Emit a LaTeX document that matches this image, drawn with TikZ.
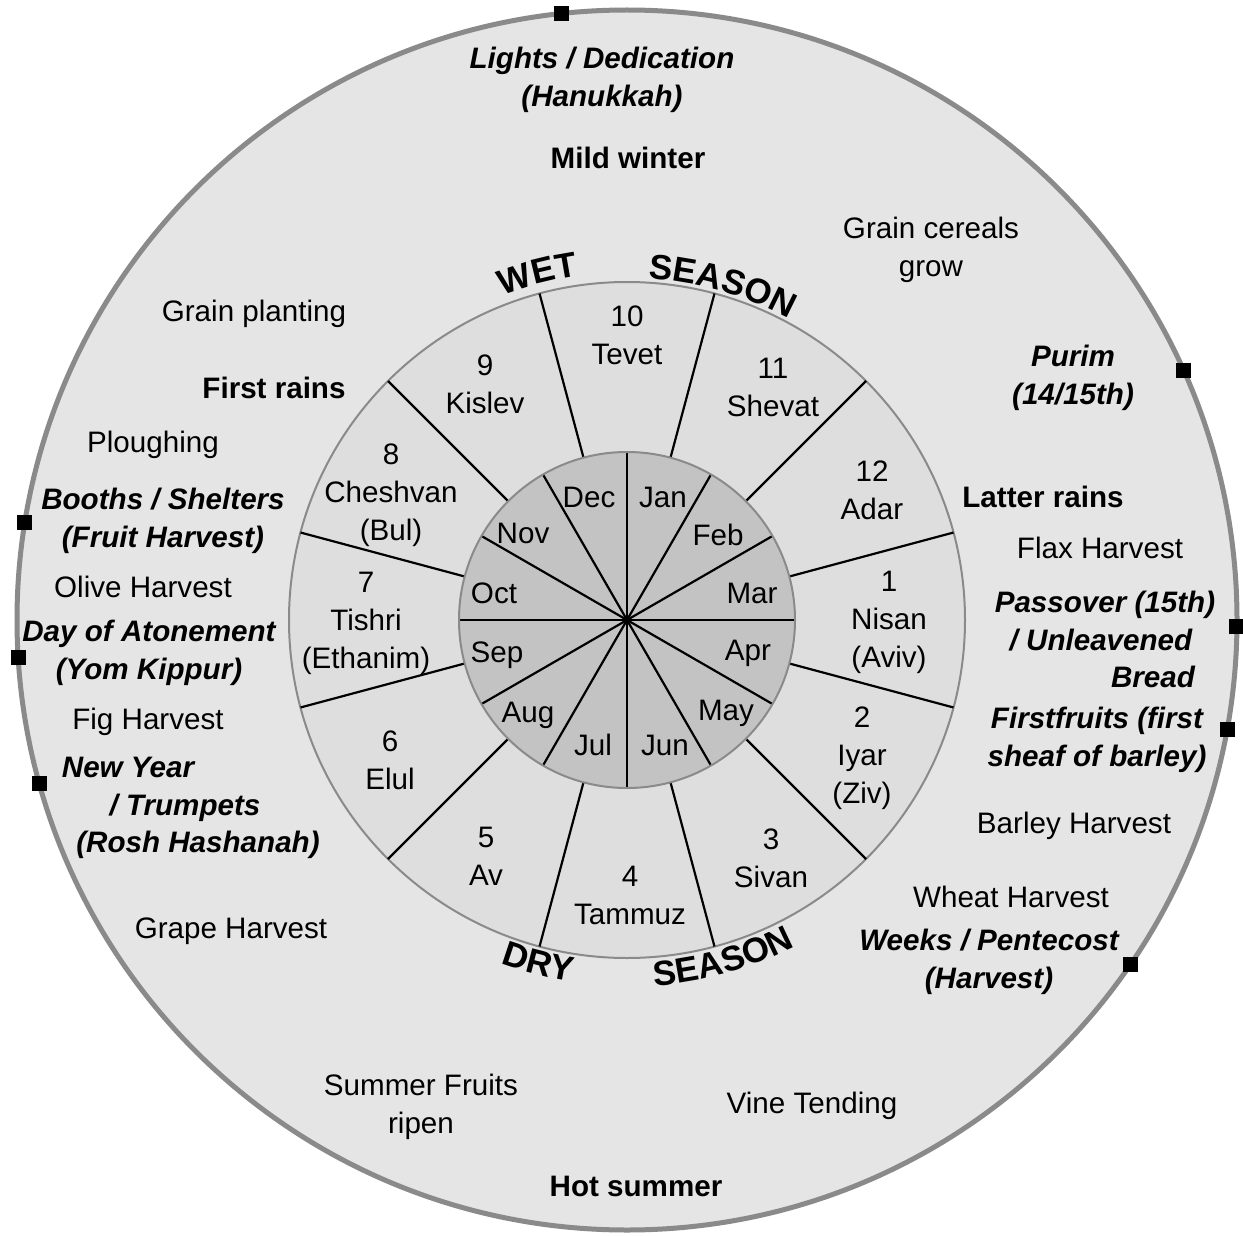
\documentclass[tikz,border=0pt]{standalone}
\usepackage{fontspec}
\setmainfont{Liberation Sans}
\usetikzlibrary{calc,decorations.text}
\definecolor{outerfill}{HTML}{E5E5E5}
\definecolor{midfill}{HTML}{DEDEDE}
\definecolor{innerfill}{HTML}{C3C3C3}
\definecolor{ringline}{HTML}{8A8A8A}
\newcommand\seasonfont{\fontsize{17.5pt}{20pt}\selectfont\bfseries}
\begin{document}
\begin{tikzpicture}[x=0.5pt,y=-0.5pt,
  lab/.style={inner sep=0pt, align=center, text depth=0pt, font=\fontsize{14.8pt}{19pt}\selectfont},
  fest/.style={inner sep=0pt, align=center, text depth=0pt, font=\fontsize{14.8pt}{19pt}\selectfont\bfseries\itshape},
  clim/.style={inner sep=0pt, align=center, text depth=0pt, font=\fontsize{14.8pt}{19pt}\selectfont\bfseries},
  spoke/.style={draw=black, line width=1.1pt},
  sq/.style={fill=black, draw=none, rectangle, inner sep=0pt, minimum size=7.5pt},
  seasontext/.style={decorate, decoration={text along path, text align=center, text={|\seasonfont|#1}}}
]
\useasboundingbox (0,0) rectangle (1243,1236);
\fill[white] (0,0) rectangle (1243,1236);
\coordinate (C) at (627,620);
% rings
\fill[outerfill] (C) circle[radius=305pt];
\draw[ringline, line width=2.5pt] (C) circle[radius=305pt];
\filldraw[fill=midfill, draw=ringline, line width=1pt] (C) circle[radius=169pt];
\fill[innerfill] (C) circle[radius=84pt];
\foreach \a in {0,30,...,330} \draw[spoke] (C) -- ($(C)+(\a:84pt)$);
\foreach \a in {15,45,...,345} \draw[spoke] ($(C)+(\a:84pt)$) -- ($(C)+(\a:169pt)$);
\draw[ringline, line width=1pt] (C) circle[radius=84pt];
% markers on the outer ring
\foreach \a/\n in {96.2/m1, 24.1/m2, 170.8/m3, 183.5/m4, -0.6/m5, -10.3/m6, 195.5/m7, -34.4/m8}
  \node[sq] (\n) at ($(C)+(\a:305pt)$) {};
% season words
\path[seasontext=WET] ($(C)+(116:173.7pt)$) arc[start angle=116, end angle=93, radius=173.7pt];
\path[seasontext=SEASON] ($(C)+(91:171pt)$) arc[start angle=91, end angle=57, radius=171pt];
\path[seasontext=DRY] ($(C)+(243:183pt)$) arc[start angle=243, end angle=268, radius=183pt];
\path[seasontext=SEASON] ($(C)+(268.3:183.5pt)$) arc[start angle=268.3, end angle=303.3, radius=183.5pt];
% inner months
\node[lab] (dec) at (589,497) {Dec};
\node[lab] (jan) at (663,497) {Jan};
\node[lab] (feb) at (718,535) {Feb};
\node[lab] (mar) at (752,593) {Mar};
\node[lab] (apr) at (748,650) {Apr};
\node[lab] (may) at (726,710) {May};
\node[lab] (jun) at (665,745) {Jun};
\node[lab] (jul) at (593,745) {Jul};
\node[lab] (aug) at (528,712) {Aug};
\node[lab] (sep) at (497,652) {Sep};
\node[lab] (oct) at (494,593) {Oct};
\node[lab] (nov) at (523,533) {Nov};
% hebrew months
\node[lab] (tevet) at (627,335) {10\\Tevet};
\node[lab] (shevat) at (773,387) {11\\Shevat};
\node[lab] (adar) at (872,490) {12\\Adar};
\node[lab] (nisan) at (889,619) {1\\Nisan\\(Aviv)};
\node[lab] (iyar) at (862,755) {2\\Iyar\\(Ziv)};
\node[lab] (sivan) at (771,858) {3\\Sivan};
\node[lab] (tammuz) at (630,895) {4\\Tammuz};
\node[lab] (av) at (486,856) {5\\Av};
\node[lab] (elul) at (390,760) {6\\Elul};
\node[lab] (tishri) at (366,620) {7\\Tishri\\(Ethanim)};
\node[lab] (cheshvan) at (391,492) {8\\Cheshvan\\(Bul)};
\node[lab] (kislev) at (485,384) {9\\Kislev};
% outer ring texts
\node[fest] (hanukkah) at (602,77) {Lights / Dedication\\(Hanukkah)};
\node[clim] (mild) at (628,158) {Mild winter};
\node[lab] (cereals) at (931,247) {Grain cereals\\grow};
\node[fest] (purim) at (1073,375) {Purim\\(14/15th)};
\node[clim] (latter) at (1043,497) {Latter rains};
\node[lab] (flax) at (1100,548) {Flax Harvest};
\node[fest] (pass1) at (1105,602) {Passover (15th)};
\node[fest] (pass2) at (1101,640) {/ Unleavened};
\node[fest] (pass3) at (1153,677) {Bread};
\node[fest] (first) at (1097,737) {Firstfruits (first\\sheaf of barley)};
\node[lab] (barley) at (1074,823) {Barley Harvest};
\node[lab] (wheat) at (1011,897) {Wheat Harvest};
\node[fest] (weeks) at (989,959) {Weeks / Pentecost\\(Harvest)};
\node[lab] (vine) at (812,1103) {Vine Tending};
\node[clim] (hot) at (636,1186) {Hot summer};
\node[lab] (summer) at (421,1104) {Summer Fruits\\ripen};
\node[lab] (grape) at (231,928) {Grape Harvest};
\node[fest] (ny1) at (128,767) {New Year};
\node[fest] (ny2) at (185,805) {/ Trumpets};
\node[fest] (ny3) at (198,842) {(Rosh Hashanah)};
\node[lab] (fig) at (148,719) {Fig Harvest};
\node[fest] (atone) at (149,650) {Day of Atonement\\(Yom Kippur)};
\node[lab] (olive) at (143,587) {Olive Harvest};
\node[fest] (booths) at (163,518) {Booths / Shelters\\(Fruit Harvest)};
\node[lab] (plough) at (153,442) {Ploughing};
\node[clim] (firstrains) at (274,388) {First rains};
\node[lab] (planting) at (254,311) {Grain planting};
\end{tikzpicture}
\end{document}
